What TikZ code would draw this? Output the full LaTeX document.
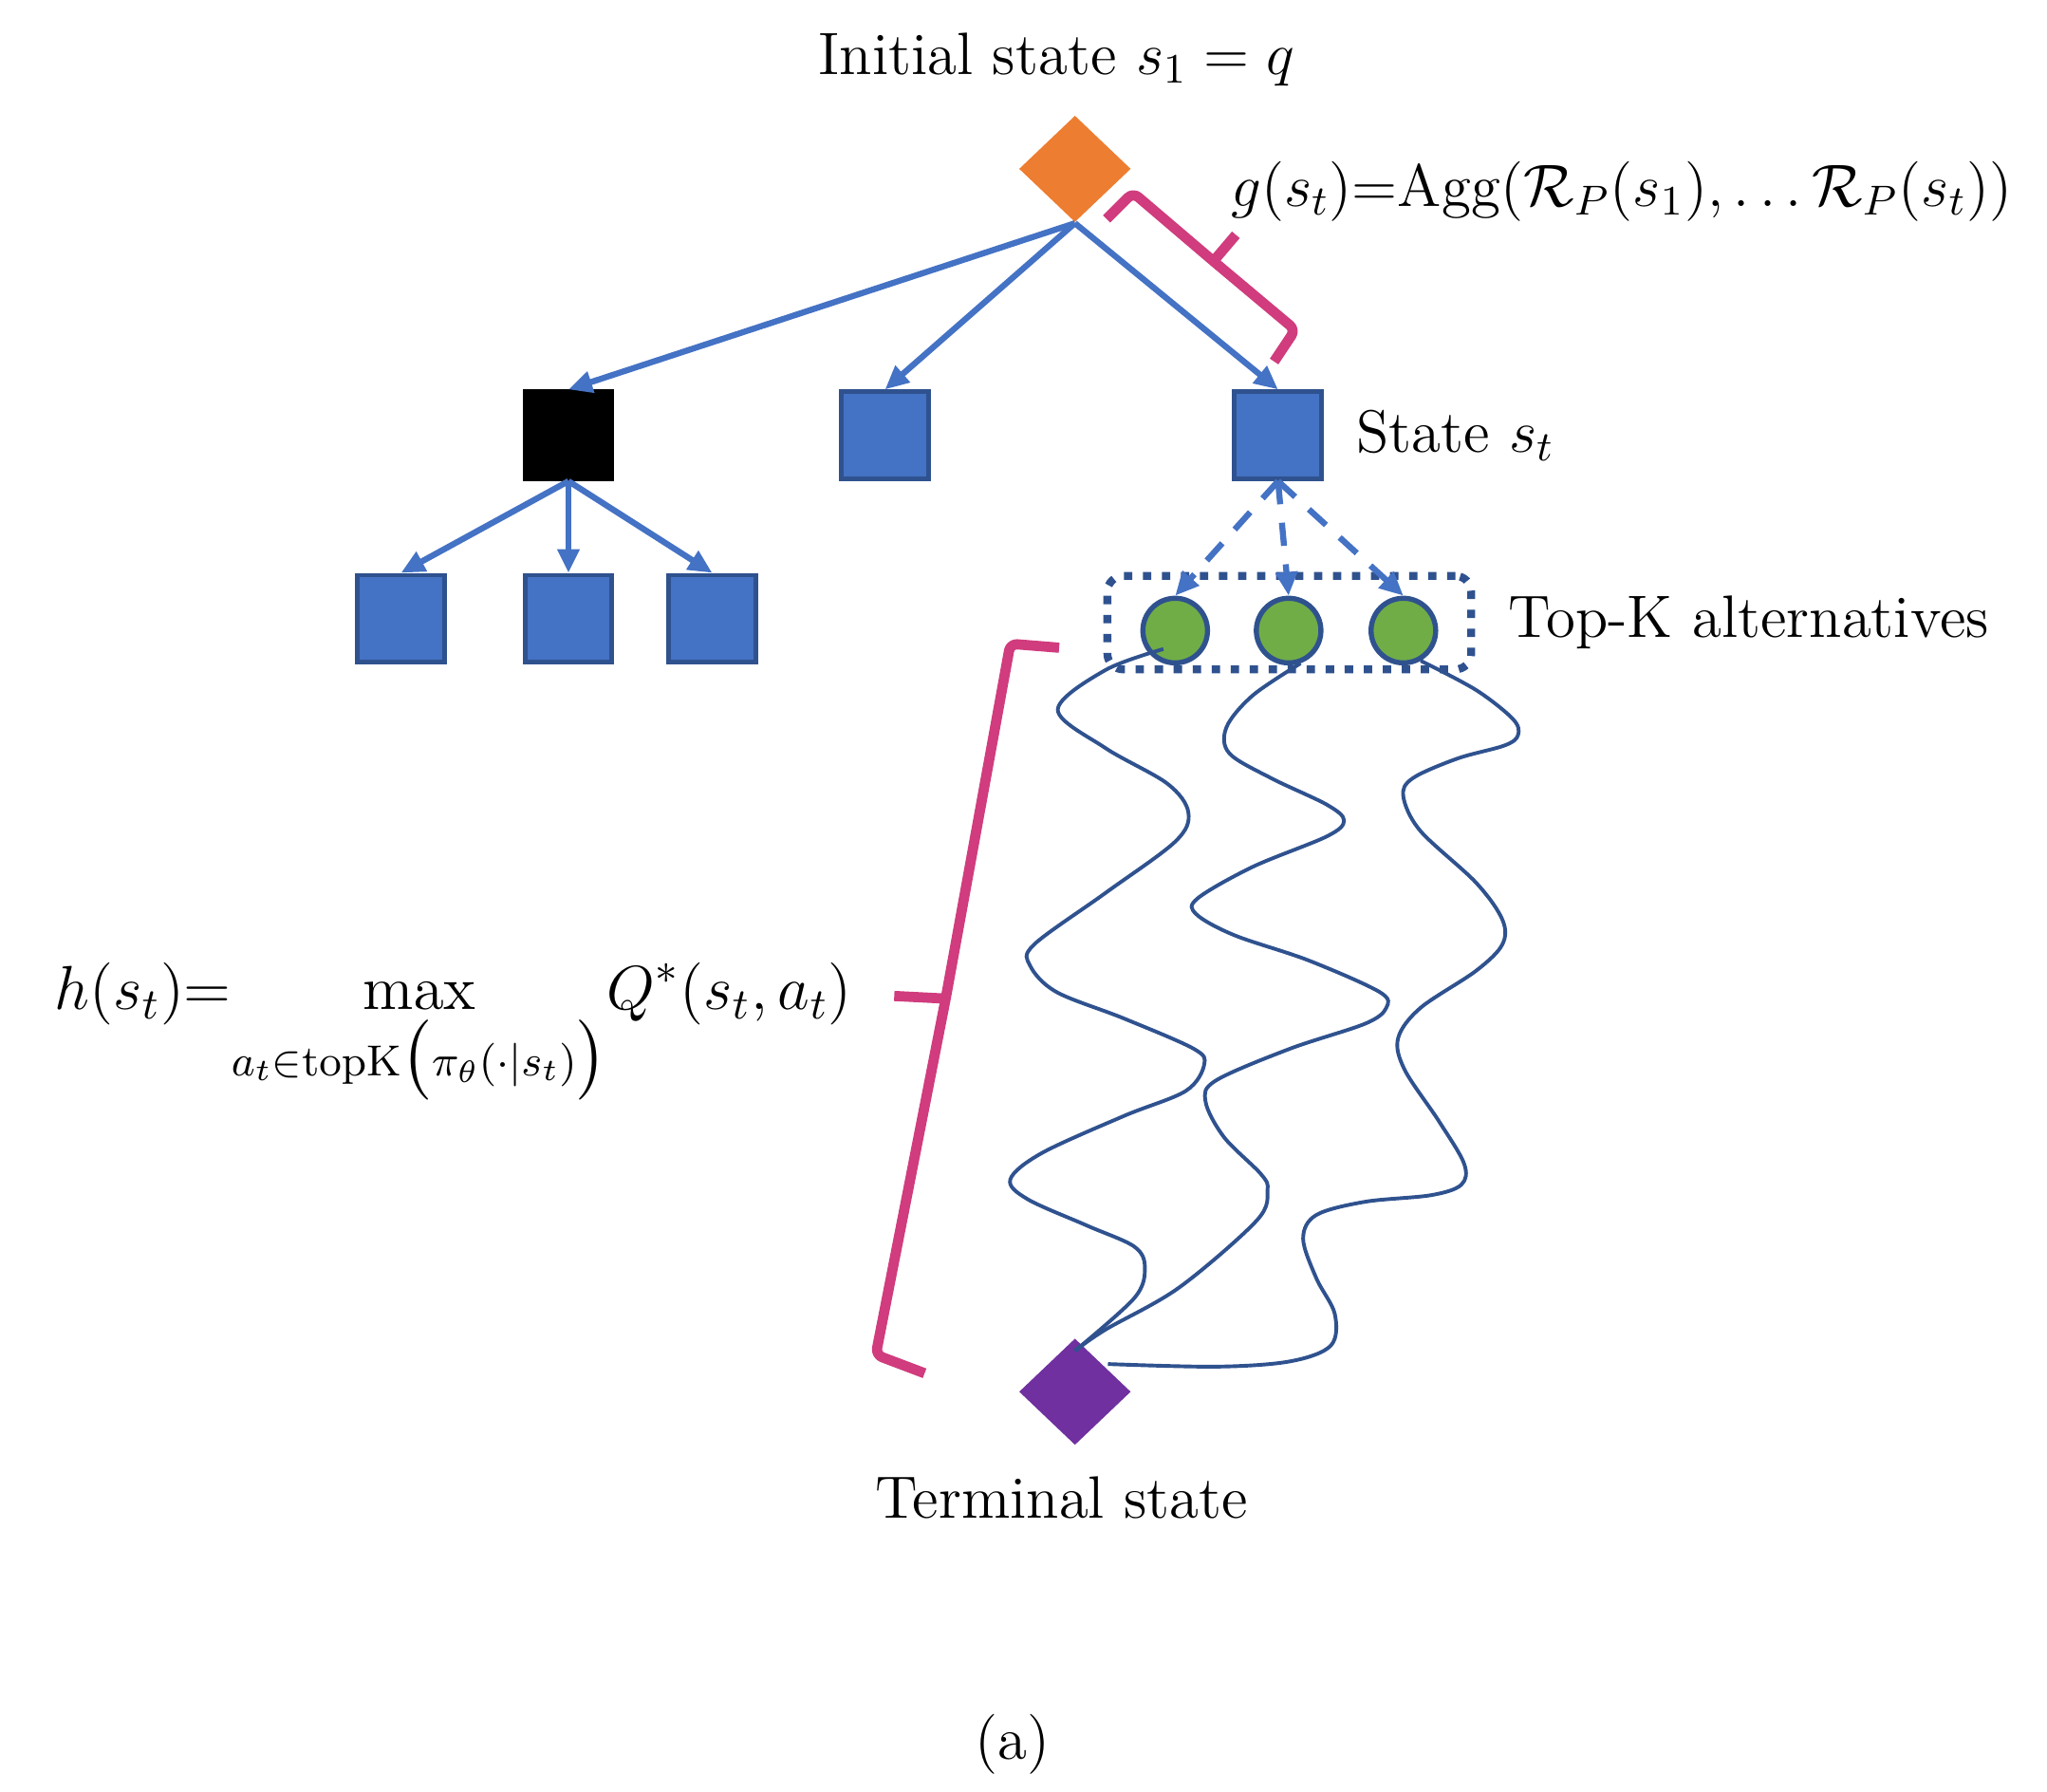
\RequirePackage{fix-cm}
\documentclass[tikz,border=0pt]{standalone}
\usepackage{amsmath}
\usepackage{xcolor}
\usepackage{tikz}
\usetikzlibrary{backgrounds}
\usetikzlibrary{shapes.geometric}
\usetikzlibrary{arrows.meta}
\usetikzlibrary{fit}
\usetikzlibrary{positioning}
\definecolor{hblau}{HTML}{4472C4}
\definecolor{dblau}{HTML}{2F528F}
\definecolor{oorange}{HTML}{ED7D31}
\definecolor{gruen}{HTML}{70AD47}
\definecolor{lila}{HTML}{7030A0}
\definecolor{pink}{RGB}{208,60,125}
\tikzset{
  Zustand/.style={draw=dblau, fill=hblau, line width=1pt, minimum size=6.6mm, inner sep=0pt}, % Zustaende
  Raute/.style={diamond, minimum width=8.5mm, minimum height=8.1mm, inner sep=0pt},
  Kreis/.style={circle, draw=dblau, fill=gruen, line width=1.1pt, minimum size=4.9mm, inner sep=0pt},
  Box/.style={draw=dblau, line width=1.7pt, dash pattern=on 1.8pt off 2.3pt, rounded corners=1.2mm,
    inner xsep=2.5mm, inner ysep=0.9mm, yshift=0.6mm},
  Pfeil/.style={hblau, line width=1.3pt, ->}, % fuer Pfeile
  DPfeil/.style={Pfeil, dash pattern=on 5pt off 4pt}, % gestrichelt
  Klammer/.style={pink, line width=2.2pt, rounded corners=1.5pt, line join=round},
  Pfad/.style={dblau, line width=0.8pt}
}
\begin{document}
\begin{tikzpicture}[x=0.1mm, y=-0.1mm,
font=\fontsize{12.9}{16}\selectfont,
>={Triangle[length=1.8mm,width=1.6mm]} % Pfeilspitzen
]
\useasboundingbox (0,0) rectangle (1552,1358);

%Knoten
\node[Raute, fill=oorange] (init) at (815,128) {};
\node[Zustand, fill=black, draw=black] (b1) at (431,330) {};
\node[Zustand] (b2) at (671,330) {};
\node[Zustand] (st) at (969,330) {};
\node[Zustand] (k1) at (304,469) {};
\node[Zustand] (k2) at (431,469) {};
\node[Zustand] (k3) at (540,469) {};
\node[Kreis] (c1) at (891,478) {};
\node[Kreis] (c2) at (977,478) {};
\node[Kreis] (c3) at (1064,478) {};
\node[Raute, fill=lila] (term) at (815,1055) {};
\begin{scope}[on background layer]
\node[Box, fit=(c1)(c2)(c3)] (topk) {};
\end{scope}

%Pfeile
\draw[Pfeil] (init.south) -- (b1.north);
\draw[Pfeil] (init.south) -- (b2.north);
\draw[Pfeil] (init.south) -- (st.north);
\foreach \k in {k1,k2,k3} \draw[Pfeil] (b1.south) -- (\k.north);
\foreach \c in {c1,c2,c3} \draw[DPfeil] (st.south) -- (\c.north);

%Pfade
\draw[Pfad] plot[smooth, tension=0.55] coordinates {([shift={(-9,14)}]c1.center)
  (838,508) (802,538) (838,567) (885,594) (901,616) (891,638) (838,677) (784,716) (781,732)
  (801,752) (852,772) (905,795) (913,807) (899,827) (852,846) (790,874) (766,894) (779,909)
  (824,929) (860,945) (868,961) (860,984) ([shift={(0,-31)}]term.center)};
\draw[Pfad] plot[smooth, tension=0.55] coordinates {(c2.290)
  (950,527) (930,551) (932,571) (964,590) (1006,610) (1019,622) (1006,634) (950,657) (908,681)
  (907,693) (936,709) (992,728) (1046,752) (1051,764) (1035,776) (978,795) (922,819) (914,835)
  (928,862) (956,890) (961,902) (953,925) (894,976) (838,1008) ([shift={(0,-31)}]term.center)};
\draw[Pfad] plot[smooth, tension=0.55] coordinates {(c3.300)
  (1119,523) (1147,545) (1151,557) (1141,565) (1105,575) (1071,590) (1064,604) (1077,630)
  (1119,669) (1139,697) (1139,716) (1119,736) (1077,764) (1060,787) (1065,811) (1091,850)
  (1110,882) (1108,898) (1085,906) (1035,911) (998,921) (988,939) (998,969) (1012,996)
  (1009,1020) (978,1032) (922,1036) ([shift={(25,-21)}]term.center)};

%Klammern
\draw[Klammer] (839,166) -- (859,146) -- (920,198) -- (982,250) -- (966,274);
\draw[Klammer] (920,198) -- (937,178);
\draw[Klammer] (803,491) -- (766,488) -- (717,757) -- (664,1027) -- (701,1041);
\draw[Klammer] (717,757) -- (678,755);

%Beschriftungen
\node (tinit) at (801,45) {Initial state $s_1 = q$};
\node[anchor=west] (tg) at (921,145) {$g(s_t)$=$\mathrm{Agg}(\mathcal{R}_P(s_1),\ldots\mathcal{R}_P(s_t))$};
\node[right=1.2mm of st] (tst) {State $s_t$};
\node[right=1.3mm of topk] (ttopk) {Top-K alternatives};
\node (tterm) at (805,1135) {Terminal state};
\node[anchor=base west, font=\fontsize{13.4}{16}\selectfont] (th) at (29,765)
  {$h(s_t)$=$\displaystyle\max_{a_t\in\mathrm{topK}\bigl(\pi_\theta(\cdot|s_t)\bigr)}\!Q^*(s_t,a_t)$};
\node (ta) at (768,1322) {(a)};

\end{tikzpicture}
\end{document}
